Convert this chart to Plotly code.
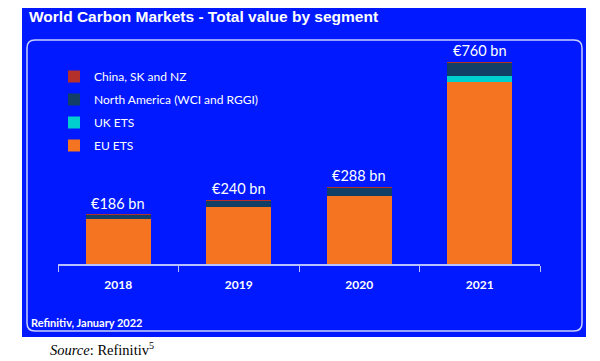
import plotly.graph_objects as go

years = ["2018", "2019", "2020", "2021"]
eu_ets = [170, 213, 257, 683]
uk_ets = [0, 0, 0, 25]
north_america = [15, 26, 30, 49]
china_sk_nz = [1, 1, 1, 3]
totals = [186, 240, 288, 760]
total_labels = ["€186 bn", "€240 bn", "€288 bn", "€760 bn"]

W, H = 600, 361
BLUE = "#0019FF"

def px(x):
    return x / W

def py(y):
    return 1 - y / H

fig = go.Figure()
series = [
    ("EU ETS", eu_ets, "#F47421", 4),
    ("UK ETS", uk_ets, "#00CFCF", 3),
    ("North America (WCI and RGGI)", north_america, "#123F66", 2),
    ("China, SK and NZ", china_sk_nz, "#B3302B", 1),
]
for i, (name, vals, col, rank) in enumerate(series):
    fig.add_trace(go.Bar(
        x=years, y=vals, name=name, marker=dict(color=col, line=dict(width=0)),
        width=0.54, legendgroup=str(i), legendrank=rank, hoverinfo="skip",
    ))

for i, (tot, lab) in enumerate(zip(totals, total_labels)):
    fig.add_annotation(x=i, y=tot, xref="x", yref="y", text=lab, showarrow=False, yanchor="bottom",
                       yshift=1, font=dict(family="Lato", size=14.5, color="white"))

# background panel
fig.add_shape(type="rect", xref="paper", yref="paper", x0=px(22), x1=px(586),
              y0=py(337), y1=py(8), fillcolor=BLUE, line=dict(width=0), layer="below")

# inner rounded box
x0, x1, y0, y1, r = 27, 582, 40, 331, 8
pts = [
    f"M {px(x0 + r)},{py(y0)}",
    f"L {px(x1 - r)},{py(y0)}",
    f"Q {px(x1)},{py(y0)} {px(x1)},{py(y0 + r)}",
    f"L {px(x1)},{py(y1 - r)}",
    f"Q {px(x1)},{py(y1)} {px(x1 - r)},{py(y1)}",
    f"L {px(x0 + r)},{py(y1)}",
    f"Q {px(x0)},{py(y1)} {px(x0)},{py(y1 - r)}",
    f"L {px(x0)},{py(y0 + r)}",
    f"Q {px(x0)},{py(y0)} {px(x0 + r)},{py(y0)} Z",
]
fig.add_shape(type="path", xref="paper", yref="paper", path=" ".join(pts),
              line=dict(color="#C9D0FF", width=1.5), fillcolor="rgba(0,0,0,0)", layer="below")

fig.add_annotation(xref="paper", yref="paper", x=px(27), y=py(17), xanchor="left", yanchor="middle",
                   text="<b>World Carbon Markets - Total value by segment</b>", showarrow=False,
                   font=dict(family="Liberation Sans", size=15.5, color="white"))
fig.add_annotation(xref="paper", yref="paper", x=px(29), y=py(322), xanchor="left", yanchor="middle",
                   text="<b>Refinitiv, January 2022</b>", showarrow=False,
                   font=dict(family="Lato", size=11, color="white"))
fig.add_annotation(xref="paper", yref="paper", x=px(48), y=py(349), xanchor="left", yanchor="middle",
                   text="<i>Source</i>: Refinitiv<sup>5</sup>", showarrow=False,
                   font=dict(family="Liberation Serif", size=14.5, color="black"))

fig.update_layout(
    width=W, height=H, barmode="stack",
    margin=dict(l=0, r=0, t=0, b=0),
    paper_bgcolor="white", plot_bgcolor="rgba(0,0,0,0)",
    showlegend=True,
    legend=dict(x=px(54), y=py(62), xanchor="left", yanchor="top",
                traceorder="grouped", tracegroupgap=4,
                bgcolor="rgba(0,0,0,0)",
                font=dict(family="Lato", size=12, color="white")),
    xaxis=dict(domain=[px(58), px(540)], range=[-0.5, 3.5], type="category",
               showline=True, linecolor="#B8C0FF", linewidth=1.5,
               ticks="outside", tickson="boundaries", ticklen=6, tickcolor="#B8C0FF",
               ticklabelstandoff=9,
               tickfont=dict(family="Lato", size=12, color="white"),
               tickprefix="<b>", ticksuffix="</b>", showgrid=False),
    yaxis=dict(domain=[py(264), py(45)], range=[0, 824], visible=False, showgrid=False),
)

fig.write_html("out.html", config={"displayModeBar": False},
               post_script="document.body.style.margin='0';document.body.style.overflow='hidden';")
